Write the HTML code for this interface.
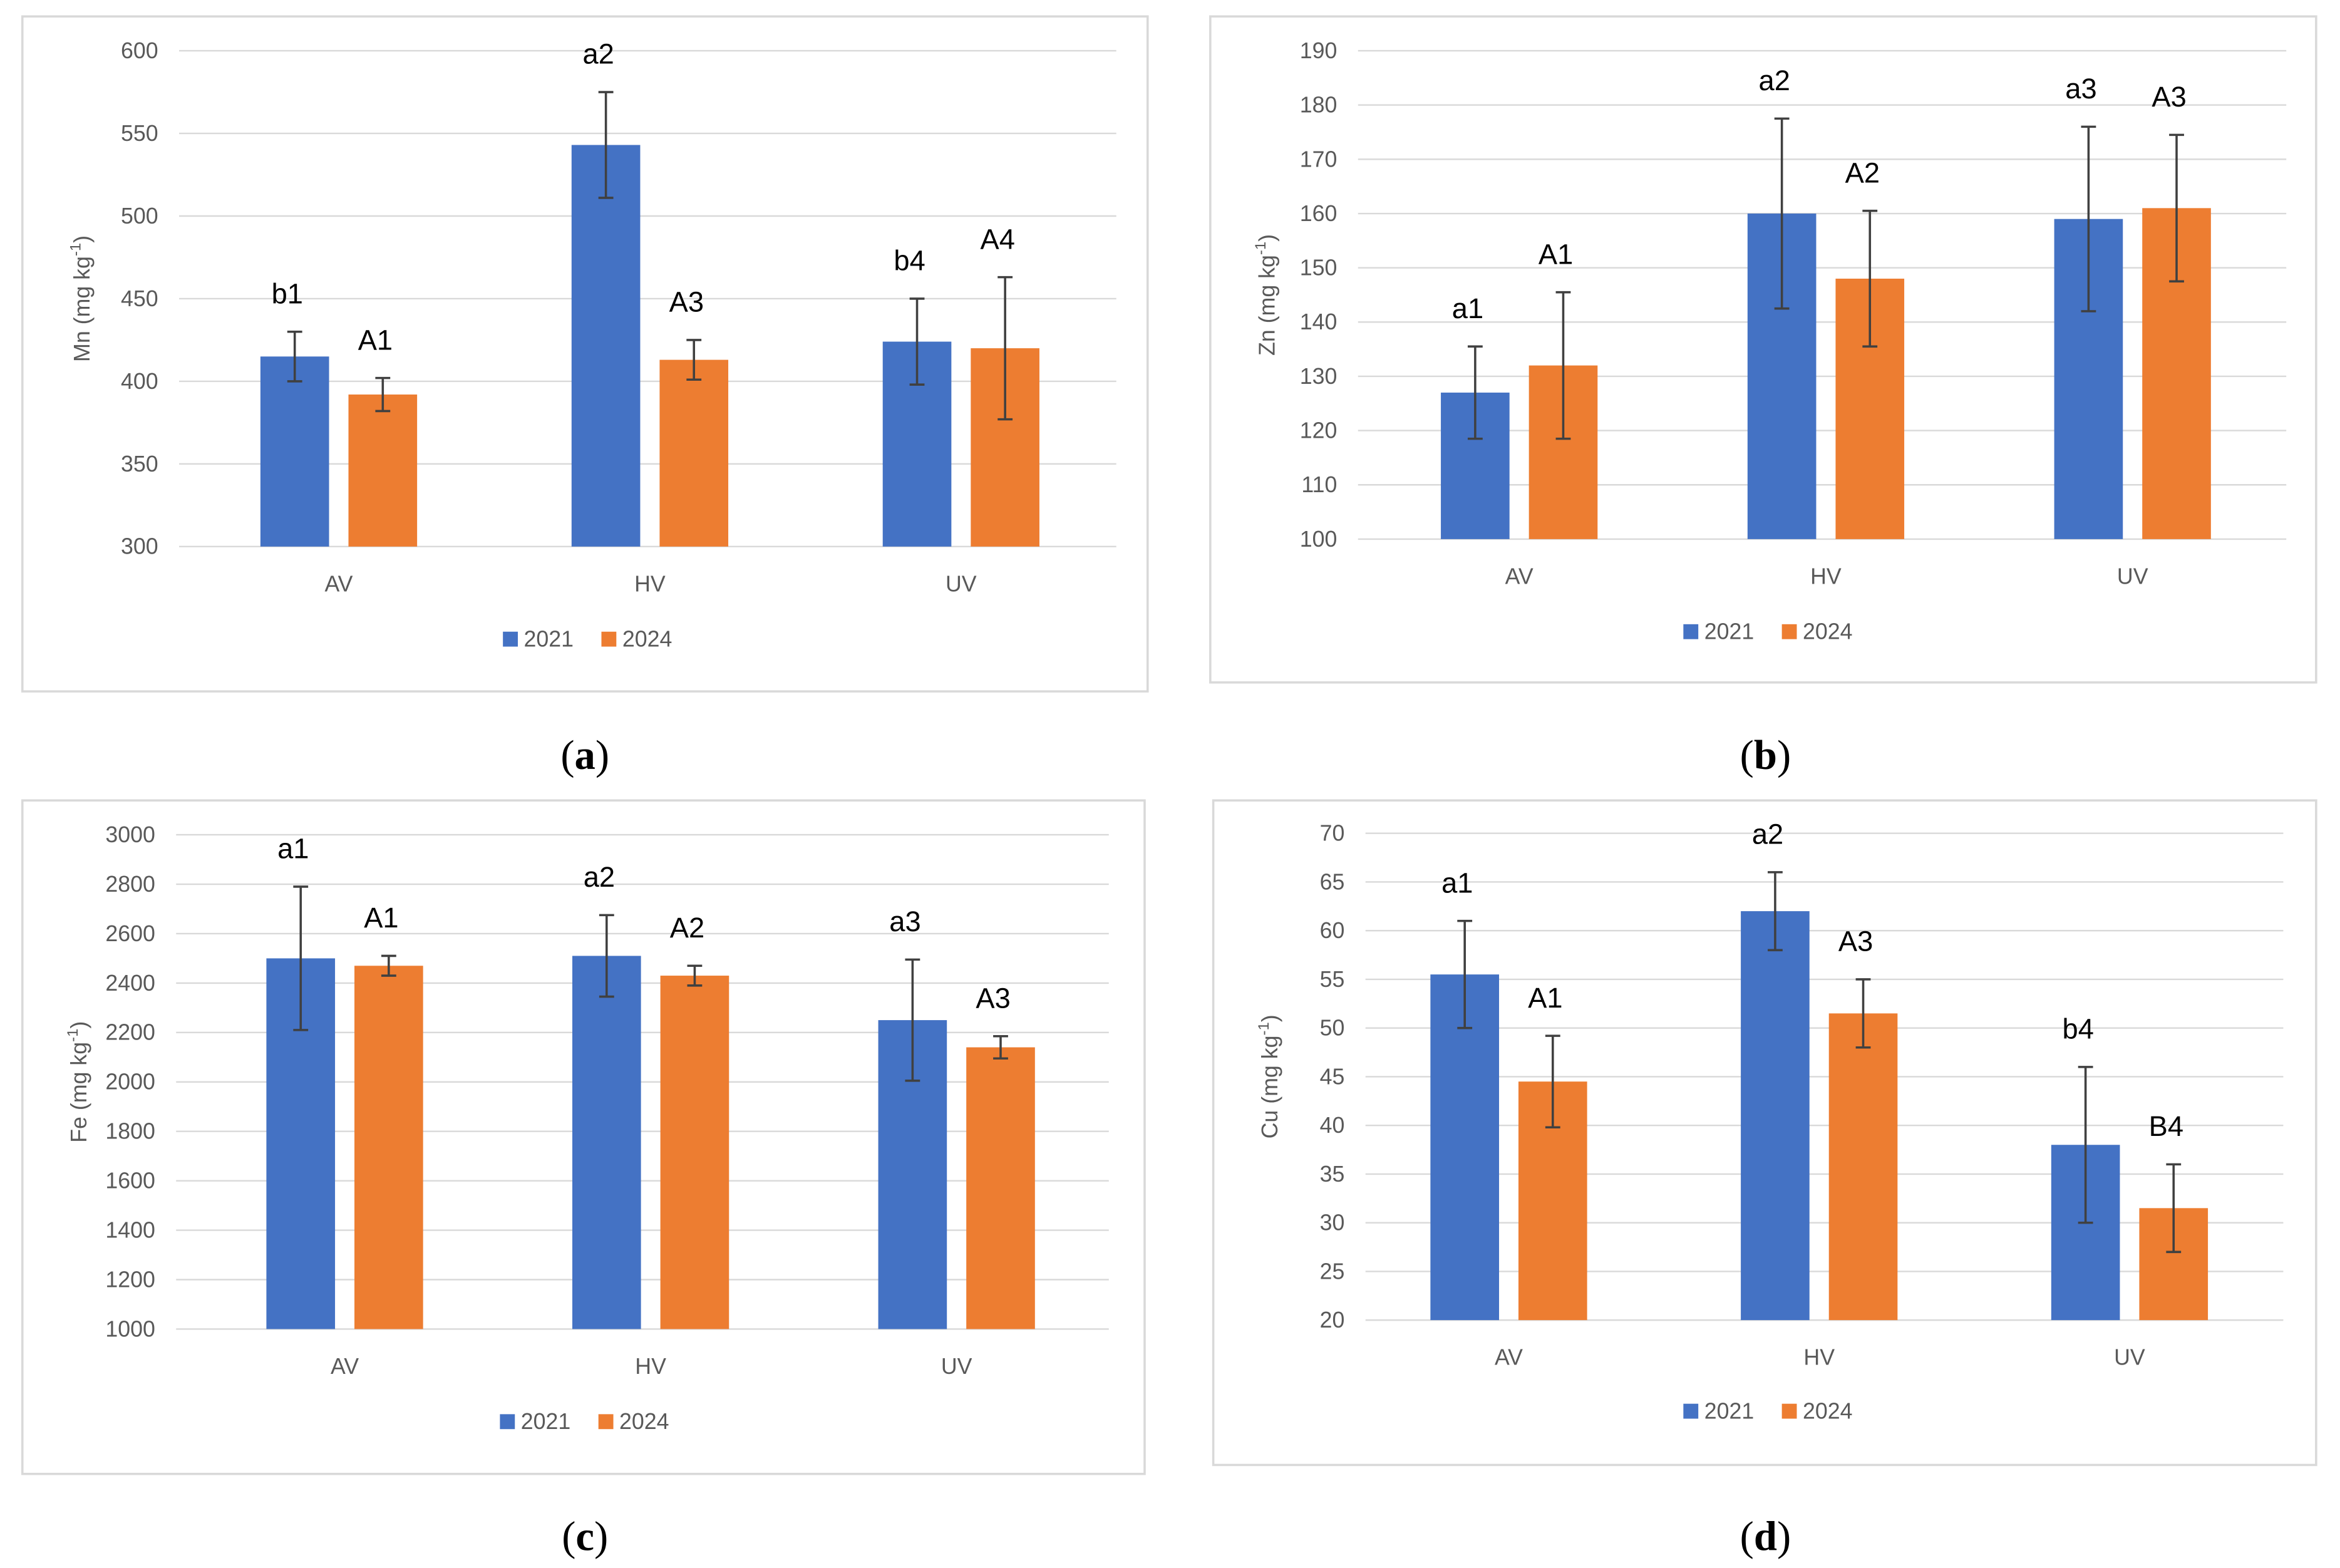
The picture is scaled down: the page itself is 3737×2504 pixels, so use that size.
<!DOCTYPE html>
<html><head><meta charset="utf-8"><style>
html,body{margin:0;padding:0;background:#fff;}
svg{display:block;}
text{font-family:"Liberation Sans",sans-serif;}
</style></head><body>
<svg id="fig" width="3737" height="2504" viewBox="0 0 1568 1050" preserveAspectRatio="none" xmlns="http://www.w3.org/2000/svg"></svg>
<script>
const categories = ["AV","HV","UV"];
const seriesNames = ["2021","2024"];
const mn2021 = [415,543,424]; const mn2024 = [392,413,420];
const mnErr2021 = [15,32,26]; const mnErr2024 = [10,12,43];
const mnLab2021 = ["b1","a2","b4"]; const mnLab2024 = ["A1","A3","A4"];
const mnTicks = [300,350,400,450,500,550,600];
const zn2021 = [127,160,159]; const zn2024 = [132,148,161];
const znErr2021 = [8.5,17.5,17]; const znErr2024 = [13.5,12.5,13.5];
const znLab2021 = ["a1","a2","a3"]; const znLab2024 = ["A1","A2","A3"];
const znTicks = [100,110,120,130,140,150,160,170,180,190];
const fe2021 = [2500,2510,2250]; const fe2024 = [2470,2430,2140];
const feErr2021 = [290,165,245]; const feErr2024 = [40,40,45];
const feLab2021 = ["a1","a2","a3"]; const feLab2024 = ["A1","A2","A3"];
const feTicks = [1000,1200,1400,1600,1800,2000,2200,2400,2600,2800,3000];
const cu2021 = [55.5,62,38]; const cu2024 = [44.5,51.5,31.5];
const cuErr2021 = [5.5,4,8]; const cuErr2024 = [4.7,3.5,4.5];
const cuLab2021 = ["a1","a2","b4"]; const cuLab2024 = ["A1","A3","B4"];
const cuTicks = [20,25,30,35,40,45,50,55,60,65,70];

const NS="http://www.w3.org/2000/svg";
const svg=document.getElementById('fig');
function mk(tag,attrs,parent,txt){const e=document.createElementNS(NS,tag);for(const k in attrs)e.setAttribute(k,attrs[k]);if(txt!==undefined)e.textContent=txt;(parent||svg).appendChild(e);return e;}
const colors=["#4472C4","#ED7D31"];
const panels=[
 {key:"mn",box:[15,11,754,452],gx:[120,748],c0:227,dc:208.5,y0:366,y1:34,title:"Mn",cap:"(a)",capx:392,capy:515,catY:396,legY:433,legX:337,
  v:[mn2021,mn2024],e:[mnErr2021,mnErr2024],l:[mnLab2021,mnLab2024],ticks:mnTicks,titleX:60},
 {key:"zn",box:[811,11,741,446],gx:[910,1532],c0:1018,dc:205.5,y0:361,y1:34,title:"Zn",cap:"(b)",capx:1183,capy:515,catY:391,legY:428,legX:1128,
  v:[zn2021,zn2024],e:[znErr2021,znErr2024],l:[znLab2021,znLab2024],ticks:znTicks,titleX:854},
 {key:"fe",box:[15,536,752,451],gx:[118,743],c0:231,dc:205,y0:890,y1:559,title:"Fe",cap:"(c)",capx:392,capy:1038,catY:920,legY:957,legX:335,
  v:[fe2021,fe2024],e:[feErr2021,feErr2024],l:[feLab2021,feLab2024],ticks:feTicks,titleX:58},
 {key:"cu",box:[813,536,739,445],gx:[915,1530],c0:1011,dc:208,y0:884,y1:558,title:"Cu",cap:"(d)",capx:1183,capy:1038,catY:914,legY:950,legX:1128,
  v:[cu2021,cu2024],e:[cuErr2021,cuErr2024],l:[cuLab2021,cuLab2024],ticks:cuTicks,titleX:856}
];
panels.forEach(p=>{
 const g=mk('g',{});
 
 
 const r=mk('rect',{x:p.box[0],y:p.box[1],width:p.box[2],height:p.box[3],fill:'#fff',stroke:'#d9d9d9','stroke-width':1.5},g);
 
 
 const tmin=p.ticks[0],tmax=p.ticks[p.ticks.length-1];
 const Y=v=>p.y0+(v-tmin)/(tmax-tmin)*(p.y1-p.y0);
 p.ticks.forEach(t=>{
  const ln=mk('line',{x1:p.gx[0],x2:p.gx[1],y1:Y(t),y2:Y(t),stroke:'#d9d9d9','stroke-width':1},g);
  
  
  const tx=mk('text',{x:p.gx[0]-14,y:Y(t)+5,'text-anchor':'end','font-size':15,fill:'#595959'},g,t);
  
  
 });
 const X=i=>p.c0+p.dc*i;
 categories.forEach((c,i)=>{
  const tx=mk('text',{x:X(i),y:p.catY,'text-anchor':'middle','font-size':15,fill:'#595959'},g,c);
  
  
  [0,1].forEach(s=>{
   const cx=X(i)+(s===0?-29.5:29.5), v=p.v[s][i], er=p.e[s][i];
   const b=mk('rect',{x:cx-23,y:Y(v),width:46,height:p.y0-Y(v),fill:colors[s]},g);
   
   
   const top=Y(v+er),bot=Y(v-er);
   const eg=mk('g',{stroke:'#404040','stroke-width':1.5},g);
   
   
   mk('line',{x1:cx,x2:cx,y1:top,y2:bot},eg);
   mk('line',{x1:cx-5,x2:cx+5,y1:top,y2:top},eg);
   mk('line',{x1:cx-5,x2:cx+5,y1:bot,y2:bot},eg);
   const lt=mk('text',{x:cx-5,y:top-19,'text-anchor':'middle','font-size':19,fill:'#000'},g,p.l[s][i]);
   
   
  });
 });
 const cy=(p.y0+p.y1)/2;
 const at=mk('text',{x:p.titleX,y:cy,'text-anchor':'middle','font-size':15,fill:'#595959',transform:`rotate(-90 ${p.titleX} ${cy})`},g);
 
 
 at.innerHTML=p.title+' (mg kg<tspan dy="-6" font-size="10">-1</tspan><tspan dy="6">)</tspan>';
 seriesNames.forEach((n,s)=>{
  const lx=p.legX+s*66;
  const le=mk('g',{},g);
  
  
  mk('rect',{x:lx,y:p.legY-10,width:10,height:10,fill:colors[s]},le);
  mk('text',{x:lx+14,y:p.legY,'font-size':15,fill:'#595959'},le,n);
 });
 const cp=mk('text',{x:p.capx,y:p.capy,'text-anchor':'middle','font-size':28,fill:'#000',style:'font-family:"Liberation Serif",serif'},svg);
 
 
 cp.innerHTML='(<tspan font-weight="bold">'+p.cap[1]+'</tspan>)';
});
</script>
</body></html>
